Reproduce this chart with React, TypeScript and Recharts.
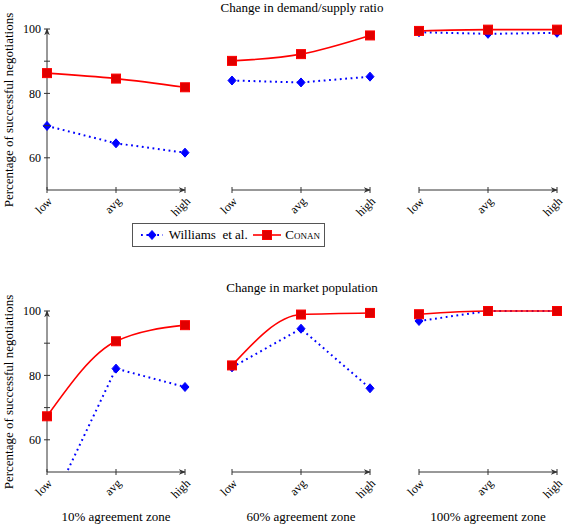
import React from 'react';
import { LineChart, Line, XAxis, YAxis } from 'recharts';

const levels = ['low', 'avg', 'high'];
const zoneLabels = ['10% agreement zone', '60% agreement zone', '100% agreement zone'];
const rowTitles = ['Change in demand/supply ratio', 'Change in market population'];
const yTicks = [60, 70, 80, 90, 100];

// one inner array per agreement zone, values for low / avg / high
const ratioWilliams = [[69.9, 64.5, 61.6], [84.0, 83.4, 85.2], [99.0, 98.5, 98.8]];
const ratioConan = [[86.3, 84.6, 81.9], [90.1, 92.2, 98.0], [99.4, 99.8, 99.8]];
const popWilliams = [[37.0, 82.1, 76.4], [82.5, 94.5, 76.0], [96.9, 100, 100]];
const popConan = [[67.3, 90.6, 95.6], [83.1, 98.9, 99.4], [99.0, 100, 100]];

const BLUE = '#0000ff';
const RED = '#ff0000';
const AXIS = '#333';
const FONT = "'Liberation Serif', 'Times New Roman', Times, 'DejaVu Serif', serif";

const plotLefts = [47, 232, 419];
const plotWidth = 138;
const rowTops = [29, 311];
const plotHeight = 161;

const XTick = (props: any) => {
  const { x, y, payload } = props;
  const tx = x + 6;
  const ty = y + 12;
  return (
    <g>
      <line x1={x} x2={x} y1={y - 3} y2={y + 3} stroke={AXIS} />
      <text x={tx} y={ty} transform={`rotate(-45 ${tx} ${ty})`} textAnchor="end" fontSize={12} fontFamily={FONT} fill="#000">
        {payload.value}
      </text>
    </g>
  );
};

const YTick = (props: any) => {
  const { x, y, payload } = props;
  return (
    <g>
      <line x1={x - 3} x2={x + 3} y1={y} y2={y} stroke={AXIS} />
      {payload.value % 20 === 0 && (
        <text x={x - 6} y={y} dy="0.35em" textAnchor="end" fontSize={12} fontFamily={FONT} fill="#000">
          {payload.value}
        </text>
      )}
    </g>
  );
};

const Square = (props: any) => {
  const { cx, cy } = props;
  if (cx == null || cy == null) return null;
  return <rect x={cx - 4.5} y={cy - 4.5} width={9} height={9} fill="#e00000" stroke={RED} strokeWidth={1} />;
};

const Diamond = (props: any) => {
  const { cx, cy } = props;
  if (cx == null || cy == null) return null;
  return <polygon points={`${cx},${cy - 4.5} ${cx + 4},${cy} ${cx},${cy + 4.5} ${cx - 4},${cy}`} fill={BLUE} stroke={BLUE} />;
};

const Panel = ({ row, col, williams, conan }: { row: number; col: number; williams: number[]; conan: number[] }) => {
  const data = levels.map((level, i) => ({ level, williams: williams[i], conan: conan[i] }));
  const showY = col === 0;
  const leftSpace = showY ? 47 : 30;
  const width = leftSpace + plotWidth + 14;
  const top = row === 0 ? 0 : 281;
  const height = rowTops[row] - top + plotHeight + 40;
  const markerId = `arrow-${row}-${col}`;
  // only the panel whose series leaves the frame needs clipping
  const overflow = [...williams, ...conan].some((v) => v < 50);
  return (
    <div style={{ position: 'absolute', left: plotLefts[col] - leftSpace, top }}>
      <LineChart
        width={width}
        height={height}
        data={data}
        margin={{ top: rowTops[row] - top, right: 14, bottom: 0, left: showY ? 0 : leftSpace }}
      >
        <defs>
          <marker id={markerId} viewBox="0 0 10 10" refX="9" refY="5" markerWidth="7" markerHeight="7" orient="auto-start-reverse" markerUnits="userSpaceOnUse">
            <path d="M0,1 L10,5 L0,9 L3,5 Z" fill={AXIS} />
          </marker>
        </defs>
        <XAxis
          dataKey="level"
          height={40}
          interval={0}
          tickSize={0}
          tickMargin={0}
          tickLine={false}
          tick={<XTick />}
          axisLine={{ stroke: AXIS, strokeWidth: 1, markerEnd: `url(#${markerId})` } as any}
        />
        <YAxis
          type="number"
          domain={[50, 100]}
          allowDataOverflow={overflow}
          ticks={yTicks}
          hide={!showY}
          width={showY ? 47 : 0}
          tickSize={0}
          tickMargin={0}
          tickLine={false}
          tick={<YTick />}
          axisLine={{ stroke: AXIS, strokeWidth: 1, markerStart: `url(#${markerId})` } as any}
        />
        <Line
          type="linear"
          dataKey="williams"
          stroke={BLUE}
          strokeWidth={2}
          strokeDasharray="1.8 3.6"
          dot={<Diamond />}
          isAnimationActive={false}
        />
        <Line
          type="monotone"
          dataKey="conan"
          stroke={RED}
          strokeWidth={1.6}
          dot={<Square />}
          isAnimationActive={false}
        />
      </LineChart>
    </div>
  );
};

const textStyle: React.CSSProperties = {
  position: 'absolute',
  fontFamily: FONT,
  fontSize: 13,
  color: '#000',
  whiteSpace: 'nowrap',
  lineHeight: '16px',
};

const Legend = () => (
  <div
    style={{
      position: 'absolute',
      left: 132,
      top: 223,
      width: 193,
      height: 24,
      border: '1px solid #555',
      boxSizing: 'border-box',
      fontFamily: FONT,
      fontSize: 13,
      whiteSpace: 'nowrap',
      display: 'flex',
      alignItems: 'center',
      padding: '0 4px 0 7px',
    }}
  >
    <svg width={24} height={12}>
      <line x1={1} x2={23} y1={6} y2={6} stroke={BLUE} strokeWidth={2} strokeDasharray="1.8 3.6" />
      <Diamond cx={12} cy={6} />
    </svg>
    <span style={{ marginLeft: 5 }}>Williams&nbsp; et al.</span>
    <svg width={30} height={12} style={{ marginLeft: 4 }}>
      <line x1={1} x2={29} y1={6} y2={6} stroke={RED} strokeWidth={1.6} />
      <Square cx={15} cy={6} />
    </svg>
    <span style={{ marginLeft: 4, fontVariant: 'small-caps' }}>Conan</span>
  </div>
);

export default function App() {
  const rows = [
    { williams: ratioWilliams, conan: ratioConan },
    { williams: popWilliams, conan: popConan },
  ];
  return (
    <div style={{ position: 'absolute', left: 0, top: 0, width: 568, height: 525, background: '#fff', overflow: 'hidden' }}>
      {rows.map((r, row) =>
        levels.map((_, col) => (
          <Panel key={`${row}-${col}`} row={row} col={col} williams={r.williams[col]} conan={r.conan[col]} />
        ))
      )}
      {rowTitles.map((t, row) => (
        <div key={t} style={{ ...textStyle, left: 302 - 150, width: 300, textAlign: 'center', top: row === 0 ? 0 : 280 }}>
          {t}
        </div>
      ))}
      {rowTops.map((t, row) => (
        <div
          key={row}
          style={{
            ...textStyle,
            width: 240,
            textAlign: 'center',
            left: 9 - 120,
            top: t + plotHeight / 2 - 8,
            transform: 'rotate(-90deg)',
          }}
        >
          Percentage of successful negotiations
        </div>
      ))}
      {zoneLabels.map((z, col) => (
        <div key={z} style={{ ...textStyle, left: plotLefts[col] + plotWidth / 2 - 80, width: 160, textAlign: 'center', top: 509 }}>
          {z}
        </div>
      ))}
      <Legend />
    </div>
  );
}
